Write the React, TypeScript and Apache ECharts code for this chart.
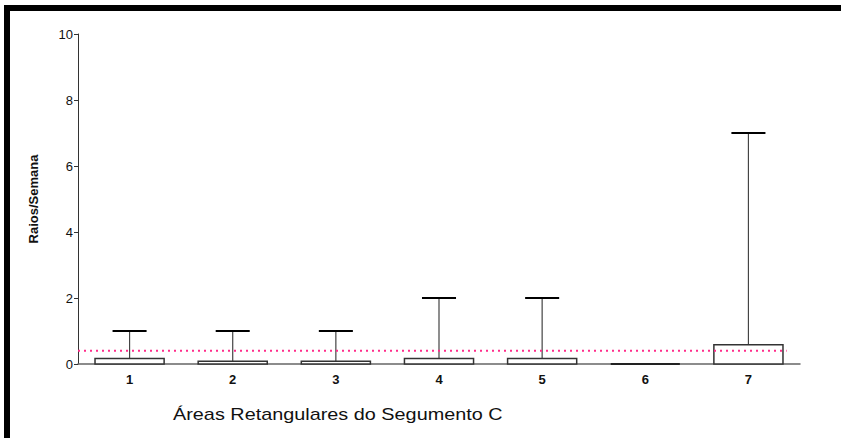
import React, { useEffect, useRef } from "react";
import * as echarts from "echarts";

const categories = ["1", "2", "3", "4", "5", "6", "7"];
const meanValues = [0.17, 0.08, 0.08, 0.17, 0.17, 0, 0.58];
const maxValues = [1, 1, 1, 2, 2, 0, 7];
const referenceLevel = 0.4;
const referenceSpan = [-0.5, 6.37];
const yTicks = [0, 2, 4, 6, 8, 10];
const xTitle = "Áreas Retangulares do Segumento C";
const yTitle = "Raios/Semana";

export default function App() {
  const ref = useRef<HTMLDivElement>(null);
  useEffect(() => {
    if (!ref.current) return;
    const chart = echarts.init(ref.current, null, { renderer: "svg" });
    const data = categories.map((c, i) => [i, meanValues[i], maxValues[i]]);
    chart.setOption({
      animation: false,
      backgroundColor: "#ffffff",
      textStyle: { fontFamily: "Liberation Sans, Arial, sans-serif" },
      grid: { left: 78, right: 41, top: 34, bottom: 74 },
      graphic: [
        { type: "rect", shape: { x: 4, y: 5, width: 841, height: 6 }, style: { fill: "#000" } },
        { type: "rect", shape: { x: 4, y: 5, width: 6, height: 440 }, style: { fill: "#000" } },
        {
          type: "text",
          x: 173,
          y: 415,
          scaleX: 1.24,
          style: {
            text: xTitle,
            fontSize: 16,
            fill: "#111",
            fontFamily: "Liberation Sans, Arial, sans-serif",
            verticalAlign: "middle",
            align: "left",
          },
        },
      ],
      xAxis: [
        {
          type: "category",
          data: categories,
          boundaryGap: true,
          axisLine: { lineStyle: { color: "#666", width: 1.5 } },
          axisTick: { show: false },
          axisLabel: { color: "#111", fontWeight: "bold", fontSize: 13, margin: 9 },
        },
        {
          type: "value",
          min: -0.5,
          max: 6.5,
          show: false,
        },
      ],
      yAxis: {
        type: "value",
        min: 0,
        max: 10,
        interval: 2,
        splitLine: { show: false },
        axisLine: { show: true, onZero: false, lineStyle: { color: "#333", width: 1 } },
        axisTick: { show: true, length: 4, lineStyle: { color: "#333" } },
        axisLabel: {
          color: "#111",
          fontSize: 13,
          margin: 5,
          formatter: (v: number) => (yTicks.includes(v) ? String(v) : ""),
        },
        name: yTitle,
        nameLocation: "middle",
        nameGap: 38,
        nameRotate: 90,
        nameTextStyle: { fontSize: 13, fontWeight: "bold", color: "#111" },
      },
      series: [
        {
          type: "line",
          xAxisIndex: 1,
          data: referenceSpan.map((x) => [x, referenceLevel]),
          symbol: "none",
          silent: true,
          lineStyle: { color: "#ff2d8a", type: [2, 4], width: 2 },
          z: 4,
        },
        {
          type: "custom",
          data,
          encode: { x: 0, y: [1, 2] },
          renderItem: (params: any, api: any) => {
            const idx = api.value(0);
            const mean = api.value(1);
            const max = api.value(2);
            const base = api.coord([idx, 0]);
            const top = api.coord([idx, mean]);
            const hi = api.coord([idx, max]);
            const bw = api.size([1, 0])[0];
            const boxW = bw * 0.67;
            const capW = bw * 0.33;
            const children: any[] = [];
            if (max > mean) {
              children.push({
                type: "line",
                shape: { x1: base[0], y1: top[1], x2: base[0], y2: hi[1] },
                style: { stroke: "#444", lineWidth: 1.2 },
              });
              children.push({
                type: "line",
                shape: { x1: base[0] - capW / 2, y1: hi[1], x2: base[0] + capW / 2, y2: hi[1] },
                style: { stroke: "#000", lineWidth: 2 },
              });
            }
            if (mean > 0) {
              children.push({
                type: "rect",
                shape: { x: base[0] - boxW / 2, y: top[1], width: boxW, height: base[1] - top[1] },
                style: { fill: "#fff", stroke: "#333", lineWidth: 1.5 },
              });
            } else {
              children.push({
                type: "line",
                shape: { x1: base[0] - boxW / 2, y1: base[1], x2: base[0] + boxW / 2, y2: base[1] },
                style: { stroke: "#222", lineWidth: 2 },
              });
            }
            return { type: "group", children };
          },
          z: 3,
        },
      ],
    });
    return () => chart.dispose();
  }, []);
  return (
    <div
      ref={ref}
      style={{ position: "fixed", left: 0, top: 0, width: 841, height: 438, background: "#fff" }}
    />
  );
}
